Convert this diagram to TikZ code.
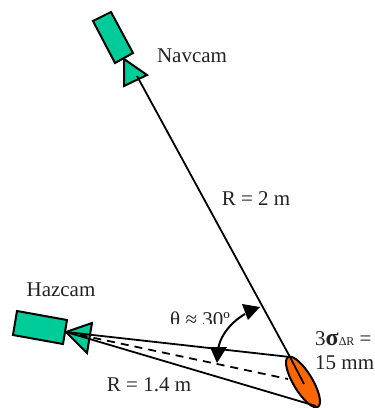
\documentclass[tikz,border=0pt]{standalone}
\usetikzlibrary{shapes.geometric}
\usepackage{fontspec}
\setmainfont{Liberation Serif}
\definecolor{camgreen}{HTML}{00CC99}
\definecolor{spotorange}{HTML}{FF6600}
\definecolor{labelgray}{HTML}{222222}
\tikzset{
  camshape/.style={draw=black,fill=camgreen,line width=2pt,line join=miter},
  rayline/.style={draw=black,line width=1.8pt},
  raydash/.style={rayline,dash pattern=on 8pt off 6pt},
  spotshape/.style={draw=black,fill=spotorange,line width=2pt},
  lbl/.style={inner sep=0pt,text=labelgray,font=\fontsize{21}{23}\selectfont},
  lbls/.style={lbl,anchor=west},
  headfill/.style={fill=black,draw=none}
}
\begin{document}
\begin{tikzpicture}[x=1pt,y=-1pt]
\useasboundingbox (0,0) rectangle (375,408);
% named points
\coordinate (navT) at (137,76);
\coordinate (spotTop) at (290,357);
\coordinate (hazT) at (66,332);
\coordinate (spotBot) at (316,406);
\coordinate (spotMid) at (288,379);
\coordinate (spotIn) at (304,384);
% cameras
\draw[camshape] (93,21) -- (111,12) -- (133,53) -- (115,63) -- cycle;
\draw[camshape] (124,59) -- (147,75) -- (124,86) -- cycle;
\draw[camshape] (17,311) -- (67,320) -- (63,344) -- (13,335) -- cycle;
\draw[camshape] (66,332) -- (92,323) -- (87,353) -- cycle;
% spot
\node[spotshape,ellipse,minimum width=58pt,minimum height=19pt,inner sep=0pt,rotate=-59] (spot) at (303,382) {};
% rays
\draw[rayline] (navT) -- (spotTop);
\draw[rayline] (hazT) -- (spotTop);
\draw[rayline] (hazT) -- (spotBot);
\draw[raydash] (hazT) -- (spotMid);
\draw[rayline] (spotTop) -- (spotIn);
% theta label (cut off at the bottom)
\begin{scope}
\clip (165,300) rectangle (240,323);
\node[lbl,anchor=west] (theta) at (170,319) {θ ≈ 30º};
\end{scope}
% angle arc
\coordinate (arcA) at (218,352);
\coordinate (arcB) at (245,314);
\draw[line width=2pt] (arcA) .. controls (218,340) and (228,324) .. (arcB);
\fill[headfill] (260,307) -- (242,304) -- (248,320) -- cycle;
\fill[headfill] (217,363) -- (210,347) -- (227,347) -- cycle;
% labels
\node[lbl] (navlabel) at (192,56) {Navcam};
\node[lbl] (rtwo) at (256,199) {R = 2 m};
\node[lbl] (hazlabel) at (61,290) {Hazcam};
\node[lbl] (ronefour) at (149,385) {R = 1.4 m};
\node[lbls] (sigmalabel) at (315,339) {3\textbf{\fontsize{24}{24}\selectfont σ}{\fontsize{12}{14}\selectfont ΔR} =};
\node[lbls] (mmlabel) at (315,363) {15 mm};
\end{tikzpicture}
\end{document}
